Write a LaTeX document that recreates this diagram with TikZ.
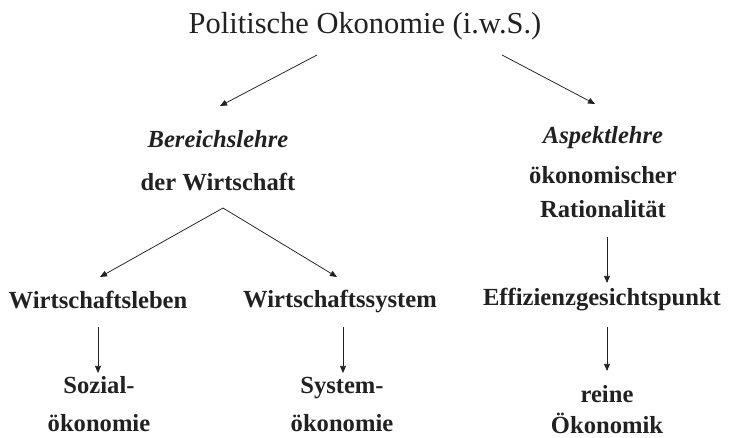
\documentclass[tikz,border=0pt]{standalone}
\usepackage{fontspec}
\setmainfont{Liberation Serif}
\usetikzlibrary{arrows.meta,calc}
\begin{document}
\begin{tikzpicture}[x=0.03cm,y=-0.03cm,
  ttl/.style={anchor=base,text=black!87,font=\fontsize{26}{30}\selectfont},
  lbl/.style={anchor=base,text=black!87,font=\fontsize{21}{24}\selectfont\bfseries},
  arr/.style={-{Triangle[length=6pt,width=5pt]},line width=0.65pt,color=black!87}]
\useasboundingbox (0,0) rectangle (734,437);
\node (pol) at (365,33) [ttl]{Politische Okonomie (i.w.S.)};
% linker Zweig
\node (bereich) at (218,147) [lbl]{\itshape Bereichslehre};
\node (wirt) at (218,190) [lbl]{der Wirtschaft};
\node (leben) at (98,308) [lbl]{Wirtschaftsleben};
\node (system) at (340,307) [lbl]{Wirtschaftssystem};
\node (sozial) at (99,393) [lbl]{Sozial-};
\node (sozoek) at (99,431) [lbl]{ökonomie};
\node (sysname) at (342,393) [lbl]{System-};
\node (sysoek) at (342,431) [lbl]{ökonomie};
% rechter Zweig
\node (aspekt) at (603,143) [lbl]{\itshape Aspektlehre};
\node (oekon) at (603,183) [lbl]{ökonomischer};
\node (ratio) at (603,217) [lbl]{Rationalität};
\node (effiz) at (602,305) [lbl]{Effizienzgesichtspunkt};
\node (reine) at (607,402) [lbl]{reine};
\node (oekonomik) at (607,433) [lbl]{Ökonomik};
% Pfeile
\draw[arr] ($(pol.base)+(-48,22)$) -- ($(bereich.base)+(2,-41)$);
\draw[arr] ($(pol.base)+(137,22)$) -- ($(aspekt.base)+(-8,-39)$);
\draw[arr] ($(wirt.base)+(5,18)$) -- ($(leben.base)+(2,-31)$);
\draw[arr] ($(wirt.base)+(5,18)$) -- ($(system.base)+(-3,-30)$);
\draw[arr] ($(ratio.base)+(4,20)$) -- ($(effiz.base)+(5,-22)$);
\draw[arr] ($(leben.base)+(0,19)$) -- ($(sozial.base)+(-1,-20)$);
\draw[arr] ($(system.base)+(3,20)$) -- ($(sysname.base)+(1,-20)$);
\draw[arr] ($(effiz.base)+(5,22)$) -- ($(reine.base)+(0,-31)$);
\end{tikzpicture}
\end{document}
